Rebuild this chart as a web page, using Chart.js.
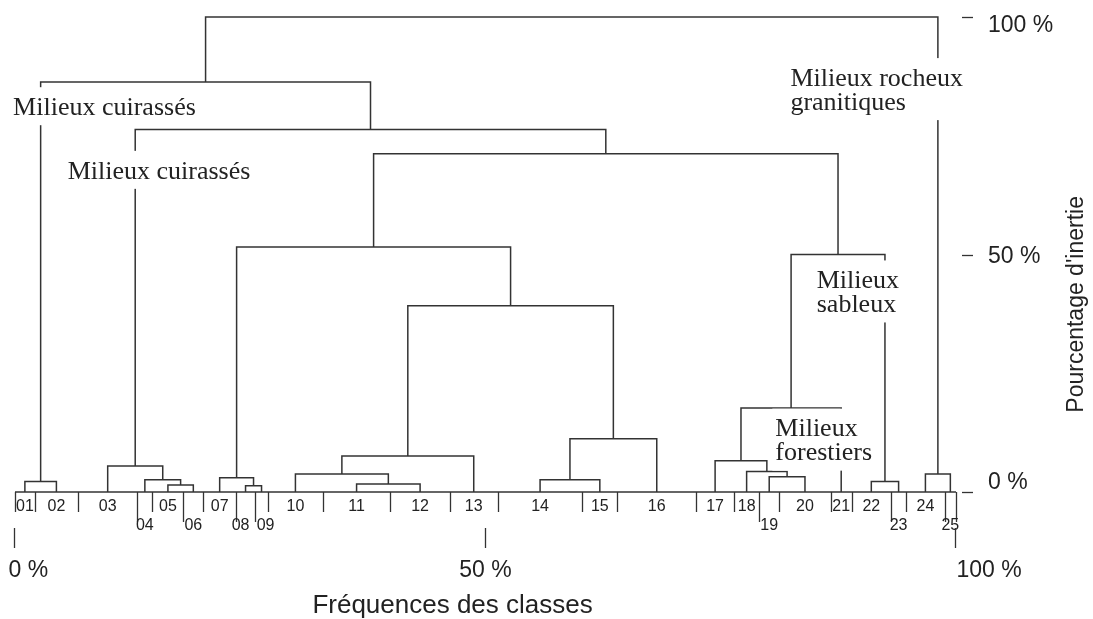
<!DOCTYPE html>
<html lang="fr">
<head>
  <meta charset="UTF-8">
  <title>Classification des milieux</title>
  <script src="https://cdn.jsdelivr.net/npm/chart.js"></script>
  <style>
    body {
      margin: 0;
      background: #fff;
    }
    canvas {
      display: block;
    }
  </style>
</head>
<body>
  <canvas id="dendro" width="1093" height="619"></canvas>

  <script>
    // classes (leaves) and their frequency in % (width on the x axis)
    const classNames = ['01', '02', '03', '04', '05', '06', '07', '08', '09', '10', '11', '12', '13',
                        '14', '15', '16', '17', '18', '19', '20', '21', '22', '23', '24', '25'];
    const classFreq = [2.1, 4.6, 6.3, 1.6, 3.3, 2.1, 3.5, 2.0, 1.4, 5.8, 7.2, 6.3, 5.1,
                       9.0, 3.7, 8.4, 4.0, 2.7, 2.1, 5.5, 2.2, 4.2, 1.6, 4.1, 1.2];

    // merges: node 25+i joins mergeLeft[i] and mergeRight[i] at mergeHeight[i] (% d'inertie)
    const mergeLeft   = [0, 4, 3, 2, 7, 6, 10, 9, 32, 13, 34, 33, 30, 18, 17, 16, 40, 21, 41, 37, 28, 25, 23, 46];
    const mergeRight  = [1, 5, 26, 27, 8, 29, 11, 31, 12, 14, 15, 35, 36, 19, 38, 39, 20, 22, 42, 43, 44, 45, 24, 47];
    const mergeHeight = [2.2, 1.5, 2.6, 5.5, 1.3, 3.0, 1.7, 3.8, 7.6, 2.6, 11.2, 39.2, 51.6, 3.2, 4.3, 6.6, 17.7,
                         2.2, 50.0, 71.2, 76.3, 86.3, 3.8, 100];

    const xTickValues = [0, 50, 100];
    const xTickLabels = ['0 %', '50 %', '100 %'];
    const yTickValues = [0, 50, 100];
    const yTickLabels = ['0 %', '50 %', '100 %'];

    const groupNames = [
      ['Milieux cuirassés'],
      ['Milieux cuirassés'],
      ['Milieux rocheux', 'granitiques'],
      ['Milieux', 'sableux'],
      ['Milieux', 'forestiers']
    ];

    // class boundaries and leaf centres
    const bounds = [0];
    classFreq.forEach(f => bounds.push(bounds[bounds.length - 1] + f));
    const nodeX = classFreq.map((f, i) => bounds[i] + f / 2);
    const nodeH = classFreq.map(() => 0);

    const LINE = '#333';
    const datasets = [];
    mergeLeft.forEach((a, i) => {
      const b = mergeRight[i];
      const h = mergeHeight[i];
      datasets.push({
        data: [
          { x: nodeX[a], y: nodeH[a] },
          { x: nodeX[a], y: h },
          { x: nodeX[b], y: h },
          { x: nodeX[b], y: nodeH[b] }
        ]
      });
      nodeX.push((nodeX[a] + nodeX[b]) / 2);
      nodeH.push(h);
    });
    // baseline
    datasets.push({ data: [{ x: 0, y: 0 }, { x: 100, y: 0 }] });

    datasets.forEach(ds => {
      ds.showLine = true;
      ds.borderColor = LINE;
      ds.borderWidth = 1.5;
      ds.pointRadius = 0;
      ds.fill = false;
      ds.clip = false;
    });

    const decor = {
      id: 'decor',
      afterDatasetsDraw(chart, args, opts) {
        const { ctx, scales: { x, y } } = chart;
        const y0 = y.getPixelForValue(0);
        ctx.save();
        ctx.strokeStyle = LINE;
        ctx.fillStyle = '#222';
        ctx.lineWidth = 1.3;

        // class separators
        bounds.forEach((b, i) => {
          const px = Math.round(x.getPixelForValue(b)) + 0.5;
          const low = opts.lowRow.includes(classNames[i]) || i === bounds.length - 1;
          ctx.beginPath();
          ctx.moveTo(px, y0);
          ctx.lineTo(px, y0 + (low ? 30 : 20));
          ctx.stroke();
        });

        // class names
        ctx.font = '16px "Liberation Sans", Arial, sans-serif';
        ctx.textAlign = 'center';
        ctx.textBaseline = 'middle';
        classNames.forEach((name, i) => {
          const low = opts.lowRow.includes(name);
          const nudge = opts.labelNudge[name] || 0;
          ctx.fillText(name, x.getPixelForValue(bounds[i] + classFreq[i] / 2) + nudge, y0 + (low ? 34 : 15));
        });

        // x axis ticks
        ctx.font = '23px "Liberation Sans", Arial, sans-serif';
        xTickValues.forEach((v, i) => {
          const px = Math.round(x.getPixelForValue(v)) - 0.5;
          ctx.beginPath();
          ctx.moveTo(px, y0 + 36);
          ctx.lineTo(px, y0 + 56);
          ctx.stroke();
          ctx.textAlign = i === 1 ? 'center' : 'left';
          ctx.fillText(xTickLabels[i], i === 0 ? px - 6 : (i === 2 ? px + 1 : px), y0 + 79);
        });

        // y axis ticks (right)
        const right = x.getPixelForValue(100);
        ctx.textAlign = 'left';
        yTickValues.forEach((v, i) => {
          const py = Math.round(y.getPixelForValue(v)) + 0.5;
          ctx.beginPath();
          ctx.moveTo(right + 6, py);
          ctx.lineTo(right + 17, py);
          ctx.stroke();
          ctx.fillText(yTickLabels[i], right + 32, py + opts.yLabelShift[i]);
        });

        // axis titles
        ctx.font = '26px "Liberation Sans", Arial, sans-serif';
        ctx.textAlign = 'center';
        ctx.fillText('Fréquences des classes', x.getPixelForValue(46.5), y0 + 114);
        ctx.save();
        ctx.translate(1077, y.getPixelForValue(39.5));
        ctx.rotate(-Math.PI / 2);
        ctx.font = '23px "Liberation Sans", Arial, sans-serif';
        ctx.fillText("Pourcentage d'inertie", 0, 0);
        ctx.restore();

        // group names, over the branches
        ctx.font = '26px "Liberation Serif", "Times New Roman", serif';
        ctx.textAlign = 'left';
        const lh = 24;
        groupNames.forEach((lines, i) => {
          const [gx, gy] = opts.groupPos[i];
          const px = x.getPixelForValue(gx);
          const py = y.getPixelForValue(gy);
          const w = Math.max(...lines.map(t => ctx.measureText(t).width));
          const h = lines.length * lh + 14;
          ctx.fillStyle = '#fff';
          ctx.fillRect(px - 3, py - h / 2 - 2, w + 6, h);
          ctx.fillStyle = '#222';
          lines.forEach((t, k) => {
            ctx.fillText(t, px, py + (k - (lines.length - 1) / 2) * lh);
          });
        });
        ctx.restore();
      }
    };

    new Chart(document.getElementById('dendro').getContext('2d'), {
      type: 'scatter',
      data: { datasets: datasets },
      options: {
        responsive: false,
        animation: false,
        layout: { padding: { left: 15, right: 137, top: 17, bottom: 127 } },
        scales: {
          x: { type: 'linear', min: 0, max: 100, display: false },
          y: { type: 'linear', min: 0, max: 100, display: false }
        },
        plugins: {
          legend: { display: false },
          tooltip: { enabled: false },
          decor: {
            lowRow: ['04', '06', '08', '09', '19', '23', '25'],
            labelNudge: { '08': -5, '09': 4 },
            yLabelShift: [-10, 1, 8],
            groupPos: [[-0.2, 80.8], [5.6, 67.4], [82.4, 84.4], [85.2, 41.8], [80.8, 10.6]]
          }
        }
      },
      plugins: [decor]
    });
  </script>
</body>
</html>
